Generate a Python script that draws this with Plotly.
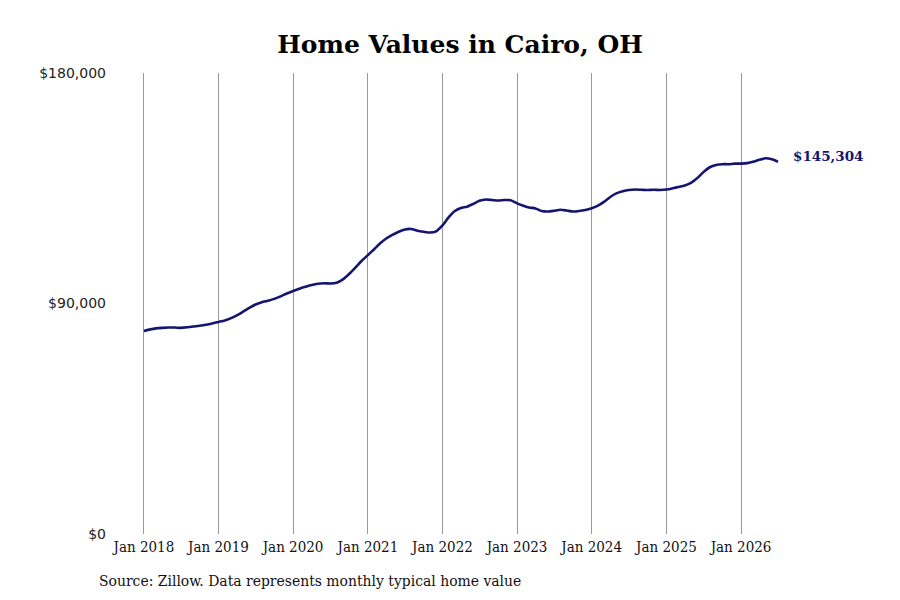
import pandas as pd
import plotly.graph_objects as go

# Monthly typical home value, Jan 2018 .. Jul 2026
start_month = "2018-01-01"
values = [
    79300, 79900, 80300, 80500, 80600, 80600, 80500, 80700, 81000, 81300, 81700, 82200,
    82800, 83400, 84200, 85400, 86800, 88300, 89600, 90500, 91100, 91800, 92800, 93900,
    94900, 95800, 96500, 97200, 97700, 97900, 97800, 98100, 99400, 101500, 104000, 106600,
    108900, 111200, 113400, 115400, 116800, 118000, 118900, 119100, 118400, 118000, 117700, 118200,
    120500, 123700, 126000, 127300, 127800, 128900, 130100, 130600, 130400, 130200, 130400, 130300,
    129100, 128200, 127500, 127100, 126100, 125900, 126200, 126600, 126300, 125900, 126100, 126500,
    127200, 128200, 129700, 131600, 133000, 133800, 134300, 134500, 134400, 134300, 134400, 134300,
    134500, 135000, 135500, 136100, 137100, 139000, 141300, 143200, 144100, 144400, 144400, 144600,
    144600, 144800, 145300, 146100, 146700, 146300, 145304,
]
dates = pd.date_range(start=start_month, periods=len(values), freq="MS")

x_tick_dates = pd.date_range(start="2018-01-01", end="2026-01-01", freq="YS")
y_ticks = [0, 90000, 180000]
y_tick_labels = ["$0", "$90,000", "$180,000"]
title_text = "Home Values in Cairo, OH"
source_text = "Source: Zillow. Data represents monthly typical home value"
last_label = "$145,304"

LINE = "#151570"
COND = "DejaVu Serif Condensed, DejaVu Serif, serif"

# page has an 8px body offset; plot area should sit at x 112..880, y 73..534 on screen
OFF = 8
L, R, T, B = 112 - OFF, 900 + OFF - 880, 73 - OFF, 600 + OFF - 534
PW, PH = 900 - L - R, 600 - T - B

fig = go.Figure()
fig.add_trace(go.Scatter(
    x=dates, y=values, mode="lines",
    line=dict(color=LINE, width=2.6, shape="spline", smoothing=0.6),
    hoverinfo="skip", showlegend=False,
))

fig.add_annotation(
    x=dates[-1], y=values[-1], xref="x", yref="y",
    text="<b>" + last_label + "</b>", showarrow=False,
    xanchor="left", yanchor="middle", xshift=13, yshift=6,
    font=dict(family="DejaVu Serif, serif", size=13.5, color=LINE),
)
fig.add_annotation(
    x=(97 - 112) / PW, y=-(581 - 534) / PH, xref="paper", yref="paper",
    text=source_text, showarrow=False, xanchor="left", yanchor="middle",
    font=dict(family=COND, size=15.5, color="#111"),
)

fig.update_layout(
    width=900, height=600,
    margin=dict(l=L, r=R, t=T, b=B),
    paper_bgcolor="white", plot_bgcolor="white",
    title=dict(text="<b>" + title_text + "</b>", x=(460 - OFF) / 900, xanchor="center", xref="container",
               y=1 - (44 - OFF) / 600, yanchor="middle", yref="container",
               font=dict(family="DejaVu Serif, serif", size=25, color="#000")),
    font=dict(family=COND, size=14, color="#111"),
)

fig.update_xaxes(
    type="date", range=["2017-07-29", "2027-11-12"],
    tickvals=x_tick_dates, tickformat="%b %Y",
    showgrid=True, gridcolor="#999999", gridwidth=1,
    showline=False, zeroline=False, ticks="", ticklabelstandoff=2,
    tickfont=dict(family=COND, size=15, color="#111"),
)
fig.update_yaxes(
    range=[0, 180000], tickvals=y_ticks, ticktext=y_tick_labels,
    showgrid=False, zeroline=False, showline=False, ticks="", ticklabelstandoff=5,
    tickfont=dict(family="DejaVu Sans, sans-serif", size=14, color="#222"),
)

fig.write_html("out.html")
